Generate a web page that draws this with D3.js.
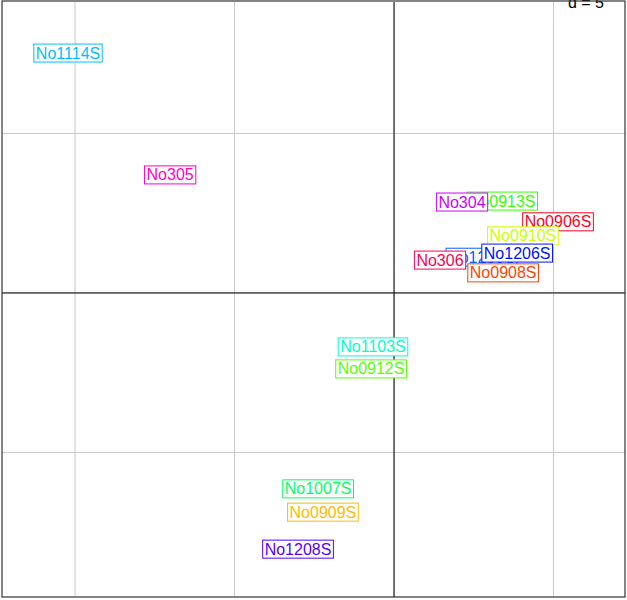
<!DOCTYPE html>
<html>
<head>
<meta charset="utf-8">
<script src="https://cdn.jsdelivr.net/npm/d3@7"></script>
<style>
  body { margin: 0; background: #fff; }
  text { font-family: "Liberation Sans", Arial, sans-serif; }
</style>
</head>
<body>
<div id="chart"></div>
<script>
// ----------------------------
// Data: label names, coordinates, colours (drawing order)
// ----------------------------
var labels = ["No1114S", "No305", "No1103S", "No0912S", "No1007S", "No0909S", "No1208S",
              "No0913S", "No304", "No0906S", "No0910S", "No1205S", "No306", "No1206S", "No0908S"];
var xs = [-10.22, -7.02, -0.66, -0.72, -2.38, -2.23, -3.01,
           3.39, 2.13, 5.14, 4.04, 2.74, 1.44, 3.86, 3.42];
var ys = [7.52, 3.70, -1.69, -2.38, -6.14, -6.87, -8.03,
          2.88, 2.85, 2.23, 1.79, 1.12, 1.03, 1.25, 0.63];
var colors = ["#00BFFF", "#FF00CC", "#00FFCC", "#55FF00", "#00FF66", "#FFBB00", "#5500FF",
              "#33FF00", "#CC00FF", "#FF0022", "#CCFF00", "#0066FF", "#FF0055", "#0011FF", "#FF4400"];
var gridTicks = [-10, -5, 0, 5];
var gridTicksY = [-5, 0, 5];
var scaleLabel = "d = 5";

var W = 627, H = 600;
var svg = d3.select("#chart").append("svg").attr("width", W).attr("height", H);

var x = d3.scaleLinear().domain([-12.29, 7.24]).range([2, 625]);
var y = d3.scaleLinear().domain([-9.53, 9.12]).range([597, 2]);

// grid
svg.selectAll("line.gx").data(gridTicks).enter().append("line")
  .attr("x1", d => x(d)).attr("x2", d => x(d))
  .attr("y1", y.range()[1]).attr("y2", y.range()[0])
  .attr("stroke", "#c8c8c8").attr("stroke-width", 1);
svg.selectAll("line.gy").data(gridTicksY).enter().append("line")
  .attr("y1", d => y(d)).attr("y2", d => y(d))
  .attr("x1", x.range()[0]).attr("x2", x.range()[1])
  .attr("stroke", "#c8c8c8").attr("stroke-width", 1);

// axes through origin
svg.append("line").attr("x1", x(0)).attr("x2", x(0))
  .attr("y1", y.range()[1]).attr("y2", y.range()[0]).attr("stroke", "#000");
svg.append("line").attr("y1", y(0)).attr("y2", y(0))
  .attr("x1", x.range()[0]).attr("x2", x.range()[1]).attr("stroke", "#000");

// scale label box (partly cut off at top)
svg.append("rect").attr("x", 560).attr("y", 0).attr("width", 64).attr("height", 11).attr("fill", "#fff");
svg.append("text").attr("x", 586).attr("y", 8).attr("text-anchor", "middle")
  .attr("font-size", 16).attr("fill", "#000").text(scaleLabel);

// labels
var g = svg.selectAll("g.lab").data(labels).enter().append("g").attr("class", "lab");
g.each(function(d, i) {
  var sel = d3.select(this);
  var t = sel.append("text")
    .attr("x", x(xs[i])).attr("y", y(ys[i]) + 5.5)
    .attr("text-anchor", "middle").attr("font-size", 16)
    .attr("fill", colors[i]).text(d);
  var bb = t.node().getBBox();
  sel.insert("rect", "text")
    .attr("x", bb.x - 2).attr("y", y(ys[i]) - 9)
    .attr("width", bb.width + 4).attr("height", 18)
    .attr("fill", "#fff").attr("stroke", colors[i]).attr("stroke-width", 1);
});

// frame
svg.append("rect").attr("x", 2).attr("y", 1).attr("width", 623).attr("height", 596)
  .attr("fill", "none").attr("stroke", "#333").attr("stroke-width", 1.2);
</script>
</body>
</html>
